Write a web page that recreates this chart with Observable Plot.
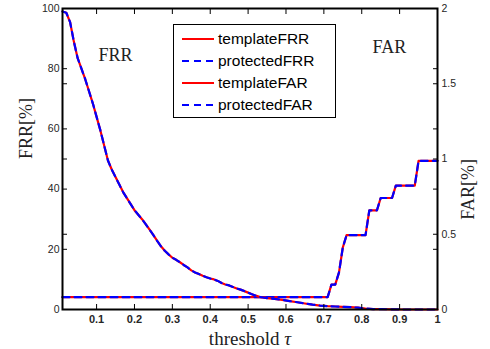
<!DOCTYPE html>
<html><head><meta charset="utf-8">
<script src="https://cdn.jsdelivr.net/npm/d3@7"></script>
<script src="https://cdn.jsdelivr.net/npm/@observablehq/plot@0.6"></script>
<style>
body{margin:0;background:#fff;}
#chart{position:relative;width:490px;height:349px;}
#legend{position:absolute;left:173px;top:24px;width:161px;height:92px;border:1px solid #000;background:#fff;font-family:"Liberation Sans",Arial,sans-serif;font-size:15.5px;color:#000;}
#legend .row{position:absolute;left:0;height:22px;line-height:22px;white-space:nowrap;}
#legend svg{position:absolute;left:7px;top:0;}
#legend span{position:absolute;left:44px;top:0;}
</style></head><body><div id="chart"><div id="legend"></div></div>
<script>
// FRR (%) vs threshold
const frrThreshold = [0.01,0.02,0.03,0.04,0.05,0.06,0.07,0.08,0.09,0.10,0.11,0.12,0.13,0.14,0.15,0.16,0.17,0.18,0.19,0.20,0.21,0.22,0.23,0.24,0.25,0.26,0.27,0.28,0.29,0.30,0.31,0.32,0.33,0.34,0.35,0.36,0.37,0.38,0.39,0.40,0.41,0.42,0.43,0.44,0.45,0.46,0.47,0.48,0.49,0.50,0.51,0.52,0.53,0.55,0.57,0.59,0.61,0.63,0.65,0.67,0.69,0.71,0.73,0.75,0.77,0.79,0.81,0.83,0.85,0.88,0.91,1.00];
const frrValues = [99.0,98.6,95.5,89.0,83.5,80.0,76.5,72.5,68.5,64.0,59.5,54.5,49.5,46.5,44.0,41.5,39.0,37.0,35.0,33.0,31.5,30.0,28.3,26.5,24.7,22.8,21.0,19.5,18.3,17.2,16.5,15.7,14.8,14.0,13.0,12.3,11.8,11.2,10.7,10.3,10.0,9.5,8.8,8.3,8.0,7.5,7.0,6.6,6.1,5.6,5.1,4.6,4.2,3.8,3.5,3.2,2.8,2.4,2.0,1.6,1.3,1.1,1.0,0.9,0.8,0.6,0.3,0.15,0.1,0.05,0.0,0.0];
// FAR (%) vs threshold
const farThreshold = [0.01,0.71,0.72,0.73,0.74,0.75,0.76,0.81,0.82,0.84,0.85,0.88,0.89,0.94,0.95,1.00];
const farValues = [0.082,0.082,0.165,0.165,0.247,0.412,0.494,0.494,0.658,0.658,0.741,0.741,0.823,0.823,0.988,0.988];
// axes
const xTickValues = [0.1,0.2,0.3,0.4,0.5,0.6,0.7,0.8,0.9,1];
const frrTickValues = [0,20,40,60,80,100];
const farTickValues = [0,0.5,1,1.5,2];
const xDomain = [0.01, 1];
const frrMax = 100, farMax = 2;
const seriesNames = ["templateFRR","protectedFRR","templateFAR","protectedFAR"];
const seriesColors = ["#ff0000","#0000ff","#ff0000","#0000ff"];
const seriesDash = [null,"7,5",null,"7,5"];
const annotations = [{text:"FRR", x:0.15, y:84.5},{text:"FAR", x:0.873, y:87.2}];

const frrData = frrThreshold.map((t,i)=>({t, v: frrValues[i]}));
const farData = farThreshold.map((t,i)=>({t, v: farValues[i]}));
const farToY = v => v * frrMax / farMax;
const farTicksOnY = farTickValues.map(farToY);

const sans = "Liberation Sans, Arial, sans-serif";
const serif = "Liberation Serif, Times New Roman, serif";

const plot = Plot.plot({
  width: 490, height: 349,
  marginLeft: 62, marginRight: 53, marginTop: 8, marginBottom: 40,
  style: {background: "#fff", fontFamily: sans},
  x: {domain: xDomain},
  y: {domain: [0, frrMax]},
  marks: [
    // lines
    Plot.line(farData, {x: "t", y: d => farToY(d.v), stroke: seriesColors[2], strokeWidth: 2.2}),
    Plot.line(farData, {x: "t", y: d => farToY(d.v), stroke: seriesColors[3], strokeWidth: 2.2, strokeDasharray: seriesDash[3]}),
    Plot.line(frrData, {x: "t", y: "v", stroke: seriesColors[0], strokeWidth: 2.2}),
    Plot.line(frrData, {x: "t", y: "v", stroke: seriesColors[1], strokeWidth: 2.2, strokeDasharray: seriesDash[1]}),
    // inward ticks
    Plot.axisY([...frrTickValues, ...farTicksOnY], {anchor: "left", tickSize: -5, tickFormat: () => "", stroke: "#000"}),
    Plot.axisY([...frrTickValues, ...farTicksOnY], {anchor: "right", tickSize: -5, tickFormat: () => "", stroke: "#000"}),
    Plot.axisX(xTickValues, {anchor: "bottom", tickSize: -5, tickFormat: () => "", stroke: "#000"}),
    Plot.axisX(xTickValues, {anchor: "top", tickSize: -5, tickFormat: () => "", stroke: "#000"}),
    // tick labels
    Plot.axisY(frrTickValues, {anchor: "left", tickSize: 0, tickPadding: 3, fontSize: 10.5, fill: "#262626", label: null}),
    Plot.axisY(farTicksOnY, {anchor: "right", tickSize: 0, tickPadding: 4, fontSize: 10.5, fill: "#262626", tickFormat: d => d3.format("~g")(d * farMax / frrMax), label: null}),
    Plot.axisX(xTickValues, {anchor: "bottom", tickSize: 0, tickPadding: 6, fontSize: 11, fontWeight: "bold", fill: "#262626", tickFormat: d => d3.format("~g")(d), label: null}),
    // frame
    Plot.frame({stroke: "#000", strokeWidth: 2}),
    // axis titles
    Plot.text(["FRR[%]"], {frameAnchor: "left", dx: -36, rotate: -90, text: d => d, fontSize: 18, fontFamily: serif, fill: "#222"}),
    Plot.text(["FAR[%]"], {frameAnchor: "right", dx: 31, rotate: -90, text: d => d, fontSize: 18, fontFamily: serif, fill: "#222"}),
    Plot.text(["threshold τ"], {frameAnchor: "bottom", dy: 35, text: d => d, fontSize: 19, fontFamily: serif, fill: "#222"}),
    // annotations
    Plot.text(annotations, {x: "x", y: "y", text: "text", fontSize: 18, fontFamily: serif, fill: "#222", letterSpacing: 1})
  ]
});
document.getElementById("chart").prepend(plot);

// italic tau in x-axis title
d3.select(plot).selectAll("text").each(function() {
  if (this.textContent === "threshold τ") {
    this.textContent = "threshold ";
    d3.select(this).append("tspan").attr("font-style", "italic").text("τ");
  }
});

// legend
const legend = document.getElementById("legend");
seriesNames.forEach((name, i) => {
  const row = document.createElement("div");
  row.className = "row";
  row.style.top = (3 + i * 22) + "px";
  row.style.width = "160px";
  const dash = seriesDash[i] ? `stroke-dasharray="${seriesDash[i]}"` : "";
  row.innerHTML = `<svg width="34" height="22"><line x1="1" x2="33" y1="11" y2="11" stroke="${seriesColors[i]}" stroke-width="2" ${dash}/></svg><span>${name}</span>`;
  legend.appendChild(row);
});
</script>
</body></html>
